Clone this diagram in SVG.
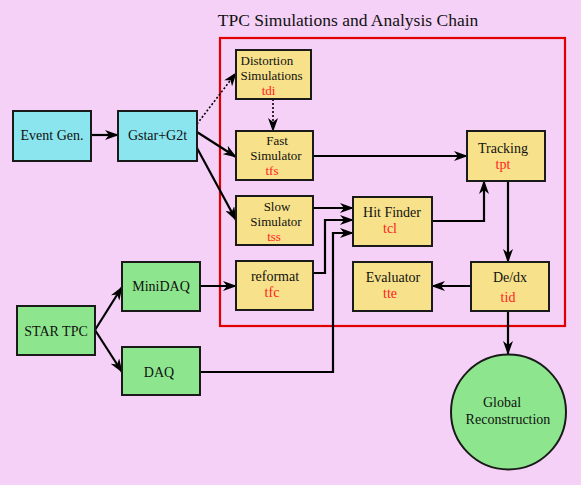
<svg xmlns="http://www.w3.org/2000/svg" width="581" height="485" viewBox="0 0 581 485">
<style>
.bg{fill:#F5D1F8}
.box{stroke:#1a1a1a;stroke-width:2}
.y{fill:#F7E18A}
.c{fill:#8BE5EE}
.g{fill:#8DE68D}
.t{font-family:"Liberation Serif","Times New Roman",serif;font-size:14px;fill:#111;text-anchor:middle}
.s{font-size:13px}
.r{fill:#FF2222}
.title{font-family:"Liberation Serif","Times New Roman",serif;font-size:17.5px;fill:#111;text-anchor:middle}
.ln{fill:none;stroke:#000;stroke-width:2.2;marker-end:url(#ah)}
.dt{fill:none;stroke:#000;stroke-width:1.6;stroke-dasharray:2 2;marker-end:url(#ah)}
</style>
<defs>
<marker id="ah" viewBox="0 0 14 10" refX="13" refY="5" markerWidth="14" markerHeight="10" markerUnits="userSpaceOnUse" orient="auto">
<path d="M0,0 L14,5 L0,10 L4,5 z" fill="#000"/>
</marker>
</defs>
<rect class="bg" x="0" y="0" width="581" height="485"/>
<text class="title" x="348" y="26">TPC Simulations and Analysis Chain</text>
<rect x="220" y="38" width="345" height="288" fill="none" stroke="#E00000" stroke-width="2.2"/>

<g id="connectors">
<line class="ln" x1="91" y1="135" x2="118" y2="135"/>
<line class="dt" x1="197" y1="124" x2="236" y2="73"/>
<line class="dt" x1="273" y1="99" x2="273" y2="131"/>
<line class="ln" x1="197" y1="132" x2="236" y2="157"/>
<line class="ln" x1="197" y1="148" x2="236" y2="220"/>
<line class="ln" x1="313" y1="156" x2="467" y2="156"/>
<line class="ln" x1="313" y1="208" x2="353" y2="208"/>
<polyline class="ln" points="313,273 325,273 325,220 353,220"/>
<polyline class="ln" points="200,372 333,372 333,233 353,233"/>
<polyline class="ln" points="432,221 484,221 484,181"/>
<line class="ln" x1="508" y1="181" x2="508" y2="262"/>
<line class="ln" x1="471" y1="286" x2="432" y2="286"/>
<line class="ln" x1="508" y1="311" x2="508" y2="354"/>
<line class="ln" x1="95" y1="330" x2="122" y2="287"/>
<line class="ln" x1="95" y1="330" x2="122" y2="372"/>
<line class="ln" x1="200" y1="286" x2="236" y2="286"/>
</g>

<g id="eventgen">
<rect class="box c" x="13" y="111" width="78" height="50"/>
<text class="t" x="52" y="140">Event Gen.</text>
</g>
<g id="gstar">
<rect class="box c" x="118" y="111" width="79" height="50"/>
<text class="t" x="157.5" y="140">Gstar+G2t</text>
</g>
<g id="distortion">
<rect class="box y" x="236" y="50" width="75" height="49"/>
<text class="t s" x="240.5" y="65" style="text-anchor:start">Distortion</text>
<text class="t s" x="240.5" y="80" style="text-anchor:start">Simulations</text>
<text class="t s r" x="268.5" y="95">tdi</text>
</g>
<g id="fastsim">
<rect class="box y" x="236" y="131" width="77" height="49"/>
<text class="t s" x="277" y="145">Fast</text>
<text class="t s" x="276" y="160">Simulator</text>
<text class="t s r" x="272" y="175">tfs</text>
</g>
<g id="slowsim">
<rect class="box y" x="236" y="196" width="77" height="49"/>
<text class="t s" x="277" y="211">Slow</text>
<text class="t s" x="276" y="226">Simulator</text>
<text class="t s r" x="274" y="241">tss</text>
</g>
<g id="reformat">
<rect class="box y" x="236" y="261" width="77" height="49"/>
<text class="t" x="275" y="281">reformat</text>
<text class="t r" x="272" y="297">tfc</text>
</g>
<g id="hitfinder">
<rect class="box y" x="353" y="197" width="79" height="49"/>
<text class="t" x="392" y="217">Hit Finder</text>
<text class="t r" x="390" y="233">tcl</text>
</g>
<g id="evaluator">
<rect class="box y" x="353" y="262" width="79" height="49"/>
<text class="t" x="393" y="282">Evaluator</text>
<text class="t r" x="390" y="298">tte</text>
</g>
<g id="tracking">
<rect class="box y" x="467" y="131" width="78" height="50"/>
<text class="t" x="503" y="153">Tracking</text>
<text class="t r" x="503" y="169">tpt</text>
</g>
<g id="dedx">
<rect class="box y" x="471" y="262" width="78" height="49"/>
<text class="t" x="510" y="282">De/dx</text>
<text class="t r" x="508" y="302">tid</text>
</g>
<g id="global">
<circle class="box g" cx="508.5" cy="412" r="57.5"/>
<text class="t" x="502" y="407">Global</text>
<text class="t" x="508" y="424">Reconstruction</text>
</g>
<g id="startpc">
<rect class="box g" x="17" y="306" width="78" height="49"/>
<text class="t" x="56" y="336">STAR TPC</text>
</g>
<g id="minidaq">
<rect class="box g" x="122" y="262" width="78" height="49"/>
<text class="t" x="161" y="291">MiniDAQ</text>
</g>
<g id="daq">
<rect class="box g" x="122" y="347" width="78" height="48"/>
<text class="t" x="159" y="377">DAQ</text>
</g>
</svg>
